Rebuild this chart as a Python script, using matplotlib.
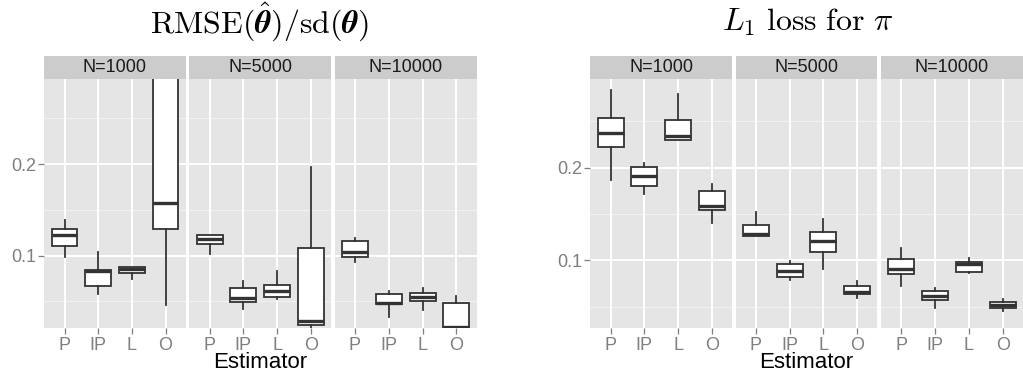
import matplotlib
matplotlib.use("Agg")
import matplotlib.pyplot as plt

# ---- data -------------------------------------------------------------
estimators = ["P", "IP", "L", "O"]
facets = ["N=1000", "N=5000", "N=10000"]

# RMSE(theta_hat)/sd(theta): per facet, per estimator
rmse_whislo = [[0.0989, 0.0580, 0.0742, 0.0460],
               [0.1019, 0.0420, 0.0522, 0.0180],
               [0.0934, 0.0332, 0.0405, 0.0150]]
rmse_q1 = [[0.1110, 0.0668, 0.0810, 0.1289],
           [0.1128, 0.0490, 0.0548, 0.0241],
           [0.0982, 0.0471, 0.0504, 0.0180]]
rmse_med = [[0.1227, 0.0832, 0.0854, 0.1574],
            [0.1183, 0.0540, 0.0617, 0.0288],
            [0.1037, 0.0482, 0.0548, 0.0222]]
rmse_q3 = [[0.1292, 0.0843, 0.0880, 0.3300],
           [0.1227, 0.0643, 0.0682, 0.1080],
           [0.1161, 0.0580, 0.0595, 0.0482]]
rmse_whishi = [[0.1390, 0.1037, 0.0880, 0.4500],
               [0.1227, 0.0726, 0.0836, 0.1964],
               [0.1197, 0.0617, 0.0646, 0.0559]]

# L1 loss for pi
l1_whislo = [[0.1866, 0.1712, 0.2298, 0.1406],
             [0.1262, 0.0788, 0.0910, 0.0590],
             [0.0726, 0.0489, 0.0860, 0.0453]]
l1_q1 = [[0.2219, 0.1805, 0.2298, 0.1543],
         [0.1262, 0.0820, 0.1093, 0.0636],
         [0.0856, 0.0572, 0.0877, 0.0486]]
l1_med = [[0.2377, 0.1906, 0.2338, 0.1586],
          [0.1284, 0.0885, 0.1212, 0.0658],
          [0.0906, 0.0618, 0.0957, 0.0518]]
l1_q3 = [[0.2532, 0.2010, 0.2517, 0.1751],
         [0.1378, 0.0964, 0.1302, 0.0723],
         [0.1014, 0.0666, 0.0982, 0.0547]]
l1_whishi = [[0.2837, 0.2046, 0.2794, 0.1823],
             [0.1518, 0.0993, 0.1445, 0.0777],
             [0.1130, 0.0698, 0.1028, 0.0583]]

y_major = [0.1, 0.2]
y_minor = [0.05, 0.15, 0.25]

# ---- style -------------------------------------------------------------
plt.rcParams["font.family"] = ["Liberation Sans", "DejaVu Sans"]
plt.rcParams["mathtext.fontset"] = "cm"

W, H = 1023, 379
fig = plt.figure(figsize=(W / 100, H / 100), dpi=100)
fig.patch.set_facecolor("white")

PANEL_BG = "#E5E5E5"
STRIP_BG = "#CCCCCC"
GRID_MINOR = "#F2F2F2"
LINE = "#333333"
TICK_GREY = "#7F7F7F"


def px_axes(x0, x1, y0, y1):
    return fig.add_axes([x0 / W, 1 - y1 / H, (x1 - x0) / W, (y1 - y0) / H])


def draw_chart(xspans, ylim, whislo, q1, med, q3, whishi, title, title_x):
    strip_top, panel_top, panel_bot = 56, 79, 328.3
    for k, (x0, x1) in enumerate(xspans):
        ax = px_axes(x0, x1, panel_top, panel_bot)
        ax.set_facecolor(PANEL_BG)
        for s in ax.spines.values():
            s.set_visible(False)
        ax.set_xlim(0.4, 4.6)
        ax.set_ylim(*ylim)
        for y in y_minor:
            ax.axhline(y, color=GRID_MINOR, lw=0.8, zorder=0)
        for y in y_major:
            ax.axhline(y, color="white", lw=1.4, zorder=0.5)
        for x in range(1, 5):
            ax.axvline(x, color="white", lw=1.4, zorder=0.5)
        stats = []
        for j, lab in enumerate(estimators):
            stats.append(dict(label=lab, whislo=whislo[k][j], q1=q1[k][j],
                              med=med[k][j], q3=q3[k][j], whishi=whishi[k][j]))
        ax.bxp(stats, positions=[1, 2, 3, 4], widths=0.77, patch_artist=True,
               showfliers=False, showcaps=False,
               boxprops=dict(facecolor="white", edgecolor=LINE, linewidth=1.3),
               medianprops=dict(color=LINE, linewidth=2.4, solid_capstyle="butt"),
               whiskerprops=dict(color=LINE, linewidth=1.3),
               manage_ticks=False, zorder=2)
        ax.set_xticks([1, 2, 3, 4])
        ax.set_xticklabels(estimators)
        ax.tick_params(axis="x", length=4, width=0.9, color=TICK_GREY,
                       labelcolor=TICK_GREY, labelsize=13, pad=2)
        if k == 0:
            ax.set_yticks(y_major)
            ax.set_yticklabels([f"{v:.1f}" for v in y_major])
            ax.tick_params(axis="y", length=4, width=0.9, color=TICK_GREY,
                           labelcolor=TICK_GREY, labelsize=13, pad=2)
        else:
            ax.set_yticks([])

        sx = px_axes(x0, x1, strip_top, panel_top)
        sx.set_facecolor(STRIP_BG)
        for s in sx.spines.values():
            s.set_visible(False)
        sx.set_xticks([])
        sx.set_yticks([])
        sx.text(0.5, 0.48, facets[k], ha="center", va="center",
                fontsize=13, color="#1A1A1A", transform=sx.transAxes)

    cx = (xspans[0][0] + xspans[-1][1]) / 2
    fig.text(cx / W, 1 - 363 / H, "Estimator", ha="center", va="center",
             fontsize=16, color="black")
    fig.text(title_x / W, 1 - 22 / H, title, ha="center", va="center",
             fontsize=23, color="black")


draw_chart([(44.3, 185.7), (189.3, 331.0), (334.7, 476.7)], (0.0205, 0.293),
           rmse_whislo, rmse_q1, rmse_med, rmse_q3, rmse_whishi,
           r"$\mathrm{RMSE}(\hat{\boldsymbol{\theta}})/\mathrm{sd}(\boldsymbol{\theta})$",
           260)
draw_chart([(590.3, 732.0), (735.7, 877.3), (881.0, 1023.0)], (0.0266, 0.2957),
           l1_whislo, l1_q1, l1_med, l1_q3, l1_whishi,
           r"$L_1\ \mathrm{loss\ for}\ \pi$",
           808)

fig.savefig("out.png", dpi=100, facecolor="white")
